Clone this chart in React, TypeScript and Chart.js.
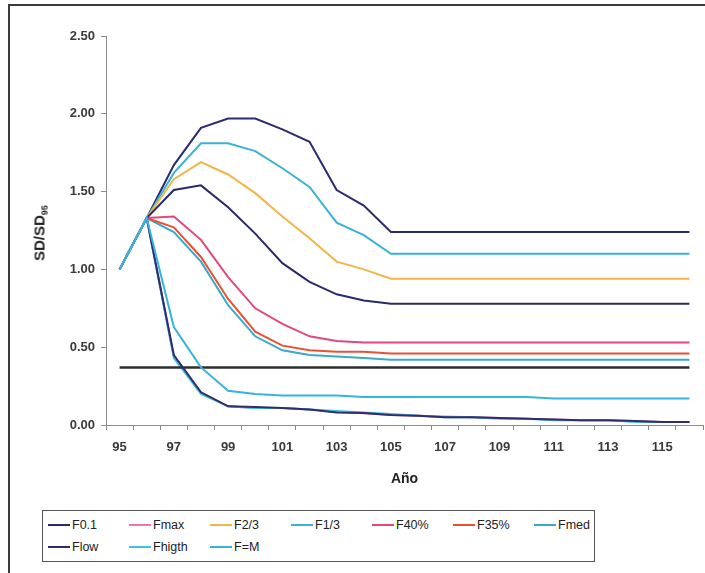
import React, { useEffect, useRef } from 'react';
import { Chart, registerables } from 'chart.js';

Chart.register(...registerables);

// ---- data ----
const years = ['95', '96', '97', '98', '99', '100', '101', '102', '103', '104', '105', '106', '107', '108', '109', '110', '111', '112', '113', '114', '115', '116'];
const yTickValues = [0, 0.5, 1, 1.5, 2, 2.5];

const f01 = [1.0, 1.33, 1.51, 1.54, 1.40, 1.23, 1.04, 0.92, 0.84, 0.80, 0.78, 0.78, 0.78, 0.78, 0.78, 0.78, 0.78, 0.78, 0.78, 0.78, 0.78, 0.78];
const fmax = [1.0, 1.33, 0.44, 0.21, 0.12, 0.11, 0.11, 0.10, 0.085, 0.075, 0.065, 0.06, 0.055, 0.05, 0.045, 0.04, 0.035, 0.03, 0.03, 0.025, 0.02, 0.02];
const f23 = [1.0, 1.33, 1.58, 1.69, 1.61, 1.49, 1.34, 1.20, 1.05, 1.00, 0.94, 0.94, 0.94, 0.94, 0.94, 0.94, 0.94, 0.94, 0.94, 0.94, 0.94, 0.94];
const f13 = [1.0, 1.33, 1.62, 1.81, 1.81, 1.76, 1.65, 1.53, 1.30, 1.22, 1.10, 1.10, 1.10, 1.10, 1.10, 1.10, 1.10, 1.10, 1.10, 1.10, 1.10, 1.10];
const f40 = [1.0, 1.33, 1.34, 1.19, 0.95, 0.75, 0.65, 0.57, 0.54, 0.53, 0.53, 0.53, 0.53, 0.53, 0.53, 0.53, 0.53, 0.53, 0.53, 0.53, 0.53, 0.53];
const f35 = [1.0, 1.33, 1.27, 1.08, 0.81, 0.60, 0.51, 0.48, 0.47, 0.47, 0.46, 0.46, 0.46, 0.46, 0.46, 0.46, 0.46, 0.46, 0.46, 0.46, 0.46, 0.46];
const fmed = [1.0, 1.33, 1.24, 1.05, 0.77, 0.57, 0.48, 0.45, 0.44, 0.43, 0.42, 0.42, 0.42, 0.42, 0.42, 0.42, 0.42, 0.42, 0.42, 0.42, 0.42, 0.42];
const flow = [1.0, 1.33, 1.67, 1.91, 1.97, 1.97, 1.90, 1.82, 1.51, 1.41, 1.24, 1.24, 1.24, 1.24, 1.24, 1.24, 1.24, 1.24, 1.24, 1.24, 1.24, 1.24];
const fhigth = [1.0, 1.33, 0.43, 0.20, 0.12, 0.11, 0.11, 0.10, 0.09, 0.08, 0.07, 0.06, 0.05, 0.05, 0.04, 0.04, 0.03, 0.03, 0.03, 0.02, 0.02, 0.02];
const fm = [1.0, 1.33, 0.63, 0.37, 0.22, 0.20, 0.19, 0.19, 0.19, 0.18, 0.18, 0.18, 0.18, 0.18, 0.18, 0.18, 0.17, 0.17, 0.17, 0.17, 0.17, 0.17];
// unlabelled lines visible in the figure
const refLine = [0.37, 0.37, 0.37, 0.37, 0.37, 0.37, 0.37, 0.37, 0.37, 0.37, 0.37, 0.37, 0.37, 0.37, 0.37, 0.37, 0.37, 0.37, 0.37, 0.37, 0.37, 0.37];
const lowLine = [null, 1.33, 0.45, 0.21, 0.12, 0.115, 0.11, 0.10, 0.08, 0.077, 0.065, 0.06, 0.05, 0.05, 0.045, 0.04, 0.035, 0.03, 0.03, 0.025, 0.02, 0.02];

const seriesNames = ['F0.1', 'Fmax', 'F2/3', 'F1/3', 'F40%', 'F35%', 'Fmed', 'Flow', 'Fhigth', 'F=M'];
const seriesValues = [f01, fmax, f23, f13, f40, f35, fmed, flow, fhigth, fm];
const seriesColors = ['#2a2a68', '#ee74b4', '#f2b548', '#3ab2d6', '#e4467e', '#ea5134', '#38a9c6', '#2b2b6e', '#42c0e2', '#36b4de'];
const seriesOrder = [5, 6, 7, 8, 9, 10, 11, 12, 4, 0];

const FONT = '"Liberation Sans", Arial, Helvetica, sans-serif';

export default function App() {
  const ref = useRef<HTMLCanvasElement>(null);

  useEffect(() => {
    if (!ref.current) return;
    const datasets: any[] = seriesNames.map((name, i) => ({
      label: name,
      data: seriesValues[i],
      borderColor: seriesColors[i],
      backgroundColor: seriesColors[i],
      borderWidth: 2,
      order: seriesOrder[i],
      pointRadius: 0,
      fill: false,
    }));
    datasets.push({
      label: '',
      data: refLine,
      borderColor: '#2e2e2e',
      borderWidth: 2.5,
      order: 2,
      pointRadius: 0,
      fill: false,
    });
    datasets.push({
      label: '',
      data: lowLine,
      borderColor: '#2f2d6c',
      borderWidth: 2,
      order: 1,
      pointRadius: 0,
      fill: false,
    });

    const tickFont = { family: FONT, size: 13, weight: 'bold' as const };
    const axisColor = '#8c8c8c';

    const chart = new Chart(ref.current, {
      type: 'line',
      data: { labels: years, datasets },
      options: {
        responsive: false,
        animation: false,
        layout: { padding: { top: 36, right: 2, left: 0, bottom: 0 } },
        plugins: { legend: { display: false }, tooltip: { enabled: false } },
        elements: { line: { tension: 0 }, point: { radius: 0 } },
        scales: {
          x: {
            type: 'category',
            offset: true,
            grid: { offset: true, drawOnChartArea: false, tickLength: 5, color: axisColor },
            border: { color: axisColor, width: 1 },
            ticks: {
              autoSkip: false,
              maxRotation: 0,
              minRotation: 0,
              padding: 10,
              font: tickFont,
              color: '#3a3a3a',
              callback: (_v: any, i: number) => (i % 2 === 0 ? years[i] : ''),
            },
            title: {
              display: true,
              text: 'Año',
              font: { family: FONT, size: 14, weight: 'bold' },
              color: '#222',
              padding: { top: 0, bottom: 12 },
            },
            afterFit: (s: any) => {
              s.height = 75;
            },
          },
          y: {
            min: 0,
            max: 2.5,
            afterBuildTicks: (s: any) => {
              s.ticks = yTickValues.map((v) => ({ value: v }));
            },
            ticks: {
              padding: 6,
              font: tickFont,
              color: '#3a3a3a',
              callback: (v: any) => Number(v).toFixed(2),
            },
            grid: { drawOnChartArea: false, tickLength: 5, color: axisColor },
            border: { color: axisColor, width: 1 },
            afterFit: (s: any) => {
              s.width = 106;
            },
          },
        },
      },
    });
    return () => chart.destroy();
  }, []);

  const legendRows = [seriesNames.slice(0, 7), seriesNames.slice(7)];

  return (
    <div
      style={{
        position: 'fixed',
        left: 0,
        top: 0,
        width: 705,
        height: 573,
        overflow: 'hidden',
        background: '#ffffff',
        fontFamily: FONT,
      }}
    >
      <div
        style={{
          position: 'absolute',
          left: 8,
          top: 4,
          width: 760,
          height: 640,
          border: '2px solid #3c3c3c',
        }}
      />
      <canvas
        ref={ref}
        width={705}
        height={500}
        style={{ position: 'absolute', left: 0, top: 0, display: 'block' }}
      />
      <div
        style={{
          position: 'absolute',
          left: 42,
          top: 233,
          transform: 'translate(-50%, -50%) rotate(-90deg)',
          whiteSpace: 'nowrap',
          fontWeight: 'bold',
          fontSize: 15,
          color: '#222',
          lineHeight: '16px',
        }}
      >
        SD/SD<sub style={{ fontSize: 9, verticalAlign: '-3px' }}>95</sub>
      </div>
      <div
        style={{
          position: 'absolute',
          left: 42,
          top: 510,
          width: 551,
          height: 50,
          border: '1px solid #555',
          boxSizing: 'content-box',
        }}
      >
        {legendRows.map((row, r) => (
          <div
            key={r}
            style={{
              position: 'absolute',
              left: 5,
              top: r === 0 ? 6 : 28,
              height: 16,
              display: 'flex',
            }}
          >
            {row.map((name) => {
              const idx = seriesNames.indexOf(name);
              return (
                <div key={name} style={{ width: 81, display: 'flex', alignItems: 'center', height: 16 }}>
                  <span
                    style={{
                      display: 'inline-block',
                      width: 22,
                      height: 2,
                      background: seriesColors[idx],
                      marginRight: 2,
                    }}
                  />
                  <span style={{ fontSize: 12.5, color: '#222', lineHeight: '16px' }}>{name}</span>
                </div>
              );
            })}
          </div>
        ))}
      </div>
    </div>
  );
}
